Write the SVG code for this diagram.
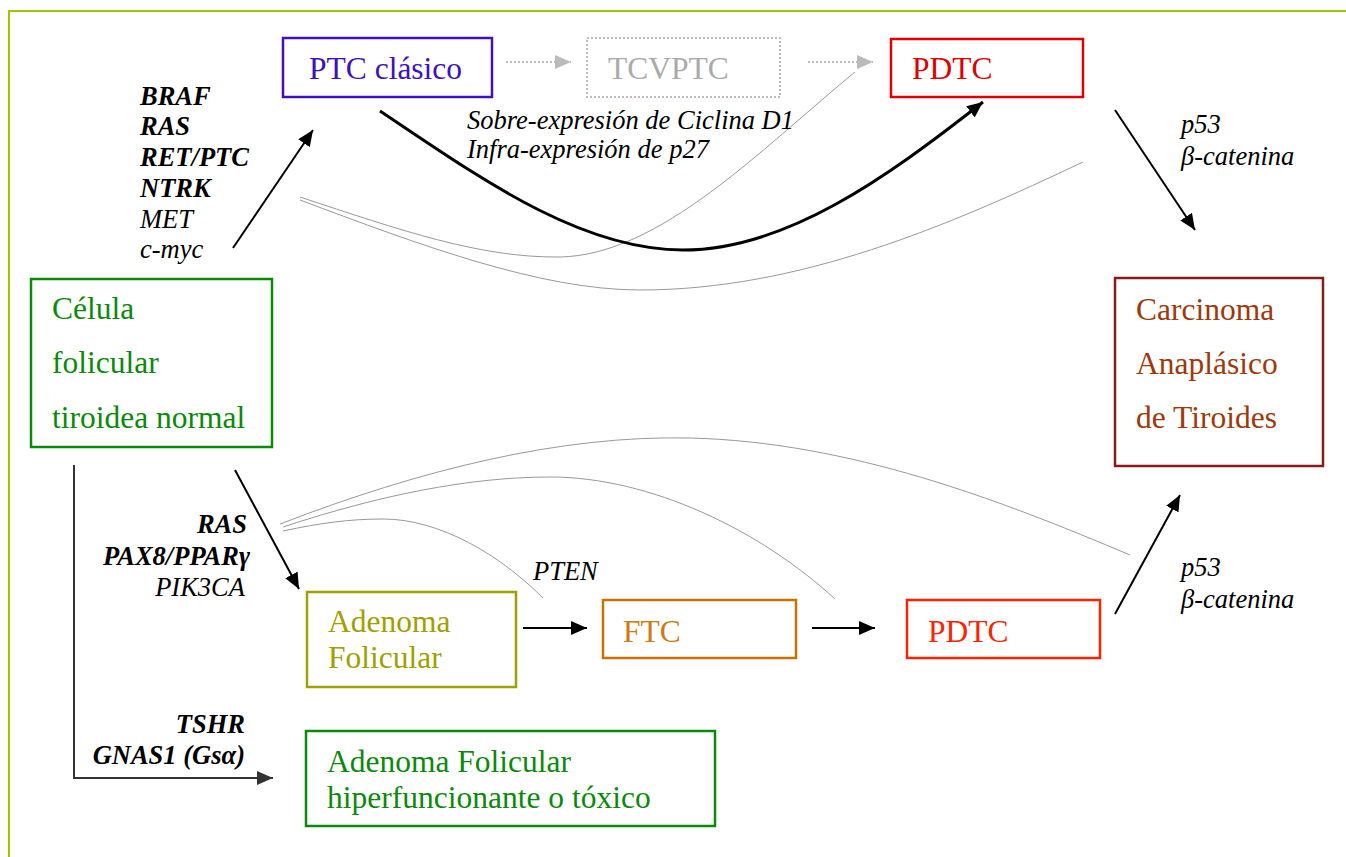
<svg xmlns="http://www.w3.org/2000/svg" width="1346" height="857" viewBox="0 0 1346 857">
<defs>
<style>
.box{fill:#fff;stroke-width:2.5}
.t{font-size:31.5px}
.l{font-size:26.5px;font-style:italic;fill:#000}
.b{font-weight:bold}
.ar{fill:none;stroke:#000;stroke-width:2}
.thin{fill:none;stroke:#999;stroke-width:1}
</style>
<marker id="ah" viewBox="0 0 16 14" refX="16" refY="7" markerWidth="16" markerHeight="14" markerUnits="userSpaceOnUse" orient="auto"><path d="M0,0 L16,7 L0,14 Z" fill="#000"/></marker>
<marker id="ahd" viewBox="0 0 16 14" refX="16" refY="7" markerWidth="16" markerHeight="14" markerUnits="userSpaceOnUse" orient="auto"><path d="M0,0 L16,7 L0,14 Z" fill="#333"/></marker>
<marker id="ahg" viewBox="0 0 16 14" refX="16" refY="7" markerWidth="16" markerHeight="14" markerUnits="userSpaceOnUse" orient="auto"><path d="M0,0 L16,7 L0,14 Z" fill="#bbb"/></marker>
</defs>
<rect width="1346" height="857" fill="#fff"/>
<path d="M9,857 L9,11 L1346,11" fill="none" stroke="#99cc00" stroke-width="2"/>

<g id="connectors">
<path class="thin" d="M300,197 C400,230 480,258 560,257 C660,255 760,150 855,72"/>
<path class="thin" d="M300,200 C420,245 540,290 640,290 C800,290 950,225 1083,162"/>
<path class="thin" d="M280,524 C420,470 560,435 690,438 C850,442 1000,500 1130,555"/>
<path class="thin" d="M283,527 C380,495 470,477 550,477 C650,477 760,530 835,599"/>
<path class="thin" d="M283,531 C320,523 350,519 383,519 C440,519 500,555 543,598"/>
<path d="M380,111 C480,178 580,250 683,250 C786,250 886,178 983,102" fill="none" stroke="#000" stroke-width="3" marker-end="url(#ah)"/>
<line class="ar" x1="233" y1="248" x2="313" y2="130" marker-end="url(#ah)"/>
<line x1="506" y1="62" x2="571" y2="62" stroke="#bbb" stroke-width="2" stroke-dasharray="2,2" marker-end="url(#ahg)"/>
<line x1="808" y1="62" x2="873" y2="62" stroke="#bbb" stroke-width="2" stroke-dasharray="2,2" marker-end="url(#ahg)"/>
<line class="ar" x1="1115" y1="110" x2="1195" y2="230" marker-end="url(#ah)"/>
<line class="ar" x1="235" y1="470" x2="299" y2="589" marker-end="url(#ah)"/>
<line class="ar" x1="523" y1="628" x2="587" y2="628" marker-end="url(#ah)"/>
<line class="ar" x1="812" y1="628" x2="875" y2="628" marker-end="url(#ah)"/>
<line class="ar" x1="1115" y1="614" x2="1180" y2="495" marker-end="url(#ah)"/>
<path d="M74,465 L74,778 L273,778" fill="none" stroke="#333" stroke-width="2" marker-end="url(#ahd)"/>
</g>

<g font-family="'Liberation Serif', 'DejaVu Serif', 'Times New Roman', serif">
<g id="labels">
<text class="l b" x="140" y="105">BRAF</text>
<text class="l b" x="140" y="135">RAS</text>
<text class="l b" x="140" y="166">RET/PTC</text>
<text class="l b" x="140" y="197">NTRK</text>
<text class="l" x="140" y="228">MET</text>
<text class="l" x="140" y="258">c-myc</text>
<text class="l" x="467" y="129">Sobre-expresión de Ciclina D1</text>
<text class="l" x="467" y="158">Infra-expresión de p27</text>
<text class="l" x="1181" y="133">p53</text>
<text class="l" x="1181" y="165">β-catenina</text>
<text class="l" x="1181" y="576">p53</text>
<text class="l" x="1181" y="608">β-catenina</text>
<text class="l b" x="247" y="533" text-anchor="end">RAS</text>
<text class="l b" x="250" y="565" text-anchor="end">PAX8/PPARγ</text>
<text class="l" x="245" y="596" text-anchor="end">PIK3CA</text>
<text class="l" x="533" y="580">PTEN</text>
<text class="l b" x="245" y="733" text-anchor="end">TSHR</text>
<text class="l b" x="245" y="764" text-anchor="end">GNAS1 (Gsα)</text>
</g>

<g id="ptc">
<rect class="box" x="283" y="38" width="209" height="59" stroke="#4010c0"/>
<text class="t" x="309" y="79" fill="#4010c0">PTC clásico</text>
</g>
<g id="tcvptc">
<rect x="587" y="38" width="193" height="59" fill="#fff" stroke="#bbb" stroke-width="2" stroke-dasharray="2,2"/>
<text class="t" x="608" y="79" fill="#aaa">TCVPTC</text>
</g>
<g id="pdtc1">
<rect class="box" x="891" y="39" width="192" height="58" stroke="#e00000"/>
<text class="t" x="912" y="79" fill="#e00000">PDTC</text>
</g>
<g id="celula">
<rect class="box" x="31" y="279" width="241" height="168" stroke="#0a8a0a"/>
<text class="t" x="52" y="319" fill="#0a8a0a">Célula</text>
<text class="t" x="52" y="373" fill="#0a8a0a">folicular</text>
<text class="t" x="52" y="428" fill="#0a8a0a">tiroidea normal</text>
</g>
<g id="carcinoma">
<rect class="box" x="1115" y="278" width="208" height="188" stroke="#8b1a1a"/>
<text class="t" x="1136" y="320" fill="#a0380a">Carcinoma</text>
<text class="t" x="1136" y="374" fill="#a0380a">Anaplásico</text>
<text class="t" x="1136" y="428" fill="#a0380a">de Tiroides</text>
</g>
<g id="adenoma">
<rect class="box" x="307" y="592" width="209" height="95" stroke="#a0a000"/>
<text class="t" x="328" y="632" fill="#a0a000">Adenoma</text>
<text class="t" x="328" y="668" fill="#a0a000">Folicular</text>
</g>
<g id="ftc">
<rect class="box" x="603" y="600" width="193" height="58" stroke="#cc7000"/>
<text class="t" x="623" y="642" fill="#d07a10">FTC</text>
</g>
<g id="pdtc2">
<rect class="box" x="907" y="600" width="193" height="58" stroke="#ff2200"/>
<text class="t" x="928" y="642" fill="#ff2200">PDTC</text>
</g>
<g id="hiper">
<rect class="box" x="306" y="731" width="409" height="95" stroke="#0a8a0a"/>
<text class="t" x="327" y="772" fill="#0a8a0a">Adenoma Folicular</text>
<text class="t" x="327" y="808" fill="#0a8a0a">hiperfuncionante o tóxico</text>
</g>
</g>
</svg>
